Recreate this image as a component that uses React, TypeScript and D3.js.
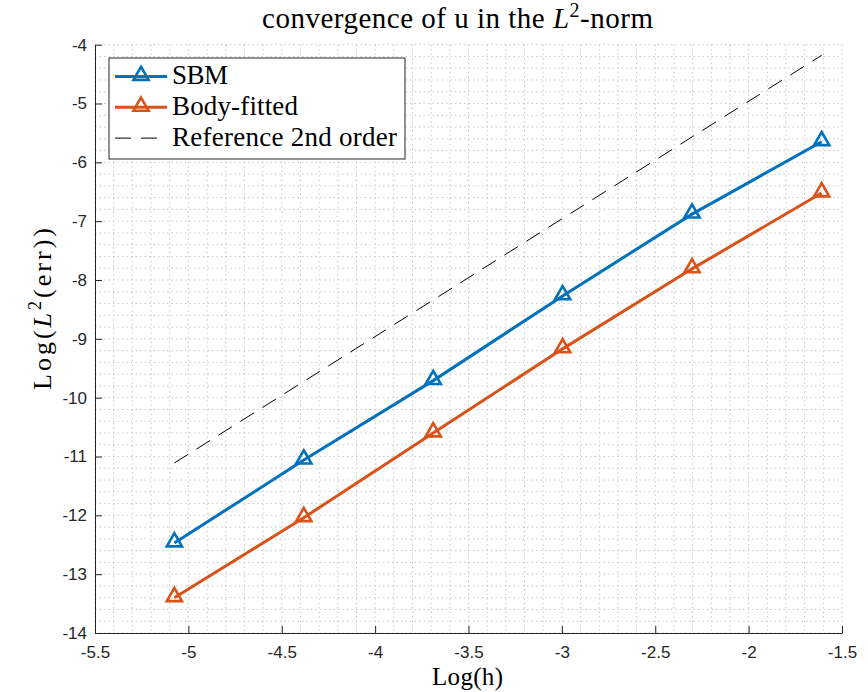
import React, {useRef, useEffect} from 'react'
import * as d3 from 'd3'

// log(h) for h = 1/160 ... 1/5
const logH = [-5.075, -4.382, -3.689, -2.996, -2.303, -1.609]
const sbmErr = [-12.47, -11.06, -9.71, -8.27, -6.88, -5.65]
const fittedErr = [-13.40, -12.04, -10.60, -9.17, -7.81, -6.52]
const refErr = [-11.11, -9.72, -8.34, -6.95, -5.57, -4.18]

const xTicks = [-5.5, -5, -4.5, -4, -3.5, -3, -2.5, -2, -1.5]
const yTicks = [-14, -13, -12, -11, -10, -9, -8, -7, -6, -5, -4]

const seriesNames = ['SBM', 'Body-fitted', 'Reference 2nd order']
const legendWidths = [56, 126, 225]
const colors = ['#0072BD', '#D95319', '#000000']

const serif = 'Liberation Serif, serif'

export default function App() {
    const gRef = useRef<SVGGElement>(null)

    const W = 868, H = 692
    const margin = {top: 44.7, right: 26, bottom: 59, left: 95}
    const width = W - margin.left - margin.right
    const height = H - margin.top - margin.bottom

    useEffect(() => {
        const root = d3.select(gRef.current)
        root.selectAll('*').remove()

        const x = d3.scaleLinear().domain([-5.5, -1.5]).range([0, width])
        const y = d3.scaleLinear().domain([-14, -4]).range([height, 0])

        const g = root.append('g').attr('transform', `translate(${margin.left},${margin.top})`)

        // minor grid (dotted)
        const xMinor = d3.range(-5.5, -1.5 + 1e-9, 0.1)
        const yMinor = d3.range(-14, -4 + 1e-9, 0.2)
        g.append('g').selectAll('line').data(xMinor).enter().append('line')
            .attr('x1', d => x(d)).attr('x2', d => x(d))
            .attr('y1', 0).attr('y2', height)
            .attr('stroke', '#c8c8c8').attr('stroke-width', 1)
            .attr('stroke-dasharray', '1.5,3')
        g.append('g').selectAll('line').data(yMinor).enter().append('line')
            .attr('x1', 0).attr('x2', width)
            .attr('y1', d => y(d)).attr('y2', d => y(d))
            .attr('stroke', '#c8c8c8').attr('stroke-width', 1)
            .attr('stroke-dasharray', '1.5,3')

        // axes (ticks pointing inward)
        const xAxis = d3.axisBottom(x).tickValues(xTicks).tickFormat(d => String(d))
            .tickSizeInner(-7).tickSizeOuter(0).tickPadding(13)
        const yAxis = d3.axisLeft(y).tickValues(yTicks).tickFormat(d => String(d))
            .tickSizeInner(-7).tickSizeOuter(0).tickPadding(8)

        const xg = g.append('g').attr('transform', `translate(0,${height})`).call(xAxis)
        const yg = g.append('g').call(yAxis)
        ;[xg, yg].forEach(a => {
            a.select('.domain').attr('stroke', '#262626').attr('stroke-width', 1)
            a.selectAll('.tick line').attr('stroke', '#262626')
            a.selectAll('.tick text').attr('fill', '#262626')
                .style('font-family', 'Liberation Sans, Arial, sans-serif').style('font-size', '17px')
        })

        const line = d3.line<[number, number]>().x(d => x(d[0])).y(d => y(d[1]))

        // reference slope
        g.append('path')
            .datum([[logH[0], refErr[0]], [logH[logH.length - 1], refErr[refErr.length - 1]]] as [number, number][])
            .attr('d', line).attr('fill', 'none')
            .attr('stroke', colors[2]).attr('stroke-width', 1)
            .attr('stroke-dasharray', '16,10')

        const tri = d3.symbol().type(d3.symbolTriangle).size(100)

        ;[sbmErr, fittedErr].forEach((vals, i) => {
            const pts = logH.map((h, j) => [h, vals[j]] as [number, number])
            g.append('path').datum(pts).attr('d', line)
                .attr('fill', 'none').attr('stroke', colors[i]).attr('stroke-width', 3)
            g.append('g').selectAll('path').data(pts).enter().append('path')
                .attr('d', tri)
                .attr('transform', d => `translate(${x(d[0])},${y(d[1]) - 1})`)
                .attr('fill', 'none').attr('stroke', colors[i]).attr('stroke-width', 2.6)
        })

        // legend
        const lg = root.append('g').attr('transform', 'translate(109,58)')
        lg.append('rect').attr('width', 296).attr('height', 101)
            .attr('fill', 'white').attr('stroke', '#262626').attr('stroke-width', 1)
        seriesNames.forEach((name, i) => {
            const cy = 18.5 + i * 30.8
            lg.append('line').attr('x1', 6).attr('x2', 58).attr('y1', cy).attr('y2', cy)
                .attr('stroke', colors[i]).attr('stroke-width', i < 2 ? 3 : 1)
                .attr('stroke-dasharray', i < 2 ? null : '16,10')
            if (i < 2) {
                lg.append('path').attr('d', tri).attr('transform', `translate(32,${cy - 1})`)
                    .attr('fill', 'none').attr('stroke', colors[i]).attr('stroke-width', 2.6)
            }
            lg.append('text').attr('x', 63).attr('y', cy + 7.5)
                .attr('textLength', legendWidths[i]).attr('lengthAdjust', 'spacing')
                .style('font-family', serif).style('font-size', '27px')
                .attr('fill', '#000').text(name)
        })
    }, [])

    return (
        <svg width={W} height={H} style={{display: 'block', position: 'absolute', left: 0, top: 0}}>
            <g ref={gRef}></g>
            <text x={262} y={28} textLength={391} lengthAdjust="spacing"
                  style={{fontFamily: serif, fontSize: 29}}>
                convergence of u in the <tspan fontStyle="italic">L</tspan>
                <tspan dy={-11} fontSize={20}>2</tspan>
                <tspan dy={11}>-norm</tspan>
            </text>
            <text x={432} y={685} textLength={71} lengthAdjust="spacing"
                  style={{fontFamily: serif, fontSize: 25}}>Log(h)</text>
            <text transform="translate(51,390) rotate(-90)" x={0} y={0} textLength={162} lengthAdjust="spacing"
                  style={{fontFamily: serif, fontSize: 26}}>
                Log(<tspan fontStyle="italic">L</tspan>
                <tspan dy={-10} fontSize={18}>2</tspan>
                <tspan dy={10}>(err))</tspan>
            </text>
        </svg>
    )
}
